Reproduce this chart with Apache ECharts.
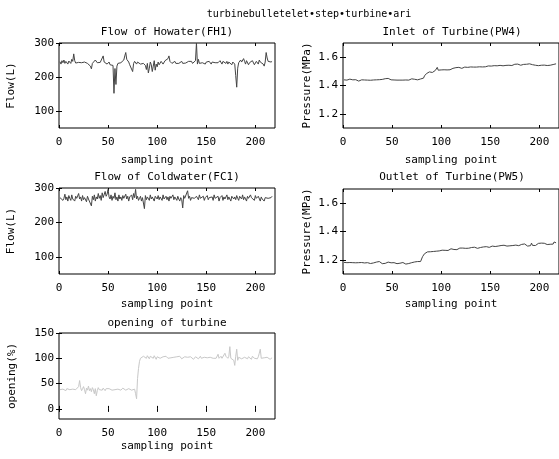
<!DOCTYPE html>
<html>
<head>
<meta charset="utf-8">
<script src="https://cdn.jsdelivr.net/npm/echarts@6/dist/echarts.min.js"></script>
<style>
  html, body { margin: 0; padding: 0; background: #fff; }
  #main { width: 559px; height: 459px; }
</style>
</head>
<body>
<div id="main"></div>
<script>
// значения (по точкам отсчёта 1..217)
const flowHowater = [
  245,238,248,242,250,240,246,243,238,247,
  244,240,252,246,268,248,241,244,239,243,
  246,240,242,245,238,244,241,246,240,243,
  236,232,224,240,244,239,250,246,242,244,
  240,243,238,246,262,244,240,246,238,242,
  244,236,240,238,234,152,225,178,232,240,
  236,244,242,238,246,250,262,272,252,248,
  244,236,232,240,216,240,246,242,238,244,
  240,246,238,242,236,240,244,234,222,240,
  212,226,244,236,216,232,248,220,238,230,
  244,236,240,246,242,238,240,248,244,250,
  254,262,246,242,240,244,242,246,240,244,
  242,240,244,242,246,240,243,245,241,244,
  242,246,242,244,246,240,242,245,248,300,
  238,252,240,236,244,242,240,246,238,244,
  242,240,246,242,238,244,240,246,242,238,
  244,242,240,248,244,238,246,242,244,240,
  246,238,244,242,240,236,244,240,238,204,
  170,226,242,246,250,244,240,254,246,238,
  248,244,236,242,246,240,248,244,236,240,
  246,242,238,250,244,240,246,238,232,244,
  272,256,246,242,250,244,246
];

const inletPW4 = [
  1.440,1.435,1.442,1.438,1.432,1.440,1.445,1.437,1.432,1.440,
  1.438,1.433,1.441,1.446,1.436,1.431,1.439,1.434,1.440,1.437,
  1.432,1.439,1.434,1.430,1.438,1.441,1.433,1.437,1.442,1.446,
  1.439,1.436,1.432,1.440,1.444,1.437,1.441,1.446,1.439,1.443,
  1.440,1.445,1.448,1.455,1.460,1.450,1.442,1.447,1.440,1.438,
  1.444,1.439,1.436,1.432,1.438,1.441,1.446,1.438,1.435,1.432,
  1.438,1.441,1.446,1.439,1.436,1.443,1.438,1.445,1.440,1.447,
  1.441,1.437,1.444,1.439,1.446,1.440,1.434,1.440,1.446,1.438,
  1.433,1.452,1.468,1.476,1.484,1.479,1.488,1.496,1.490,1.498,
  1.492,1.500,1.497,1.506,1.494,1.528,1.508,1.514,1.502,1.510,
  1.508,1.503,1.511,1.509,1.516,1.510,1.512,1.518,1.511,1.519,
  1.516,1.521,1.513,1.520,1.526,1.518,1.522,1.528,1.519,1.527,
  1.521,1.529,1.522,1.530,1.527,1.535,1.528,1.532,1.524,1.531,
  1.528,1.536,1.530,1.533,1.538,1.530,1.534,1.540,1.532,1.538,
  1.536,1.531,1.538,1.541,1.532,1.539,1.545,1.538,1.533,1.540,
  1.537,1.542,1.534,1.540,1.543,1.548,1.539,1.544,1.535,1.542,
  1.540,1.547,1.539,1.544,1.550,1.542,1.548,1.552,1.543,1.556,
  1.548,1.541,1.549,1.543,1.550,1.542,1.546,1.551,1.540,1.548,
  1.543,1.550,1.542,1.549,1.552,1.544,1.550,1.541,1.548,1.553,
  1.544,1.550,1.547,1.541,1.549,1.543,1.551,1.546,1.540,1.548,
  1.552,1.543,1.549,1.554,1.544,1.550,1.547,1.541,1.549,1.552,
  1.543,1.550,1.556,1.548,1.542,1.549,1.553
];

const flowColdwater = [
  272,268,276,264,270,282,266,274,262,278,
  270,264,280,268,272,262,276,270,266,284,
  268,274,262,278,266,272,270,260,276,268,
  264,270,248,276,266,280,262,274,268,284,
  270,278,264,286,272,268,290,276,282,296,
  274,268,280,264,276,270,286,266,274,262,
  280,268,274,264,278,270,266,282,268,276,
  262,274,270,280,266,284,272,296,268,276,
  264,270,276,262,272,268,240,278,266,274,
  270,264,280,268,274,270,262,276,272,268,
  278,266,274,270,264,280,268,272,276,266,
  274,262,276,270,268,280,266,274,272,264,
  276,268,262,272,266,242,278,270,274,268,
  292,270,276,264,272,268,274,270,266,276,
  272,266,280,270,274,268,276,264,272,270,
  278,266,272,276,268,274,264,280,270,272,
  268,276,262,272,270,278,264,274,268,272,
  280,266,274,270,262,276,272,268,274,266,
  278,270,264,276,272,268,280,266,274,270,
  262,276,270,266,280,272,268,274,264,278,
  270,266,276,272,262,274,268,270,262,272,
  276,268,270,274,266,272,276
];

const outletPW5 = [
  1.182,1.178,1.175,1.180,1.184,1.176,1.181,1.179,1.186,1.180,
  1.177,1.173,1.179,1.183,1.175,1.180,1.178,1.174,1.181,1.177,
  1.172,1.178,1.182,1.175,1.180,1.177,1.183,1.174,1.179,1.181,
  1.178,1.174,1.180,1.184,1.176,1.181,1.188,1.180,1.177,1.173,
  1.179,1.183,1.175,1.180,1.178,1.184,1.176,1.181,1.179,1.182,
  1.175,1.180,1.184,1.178,1.173,1.179,1.183,1.176,1.182,1.190,
  1.181,1.177,1.172,1.170,1.176,1.180,1.174,1.179,1.183,1.180,
  1.187,1.182,1.185,1.190,1.184,1.188,1.183,1.190,1.188,1.200,
  1.222,1.235,1.243,1.250,1.248,1.256,1.252,1.260,1.257,1.262,
  1.266,1.259,1.263,1.268,1.261,1.267,1.270,1.263,1.268,1.271,
  1.268,1.262,1.270,1.267,1.275,1.270,1.266,1.276,1.271,1.278,
  1.272,1.279,1.273,1.280,1.277,1.272,1.281,1.276,1.283,1.286,
  1.279,1.283,1.277,1.287,1.281,1.284,1.289,1.282,1.288,1.283,
  1.287,1.290,1.284,1.289,1.292,1.286,1.281,1.288,1.293,1.287,
  1.290,1.285,1.291,1.284,1.289,1.293,1.287,1.291,1.288,1.292,
  1.289,1.297,1.291,1.288,1.294,1.299,1.292,1.297,1.290,1.298,
  1.301,1.294,1.299,1.303,1.295,1.300,1.297,1.302,1.294,1.299,
  1.303,1.296,1.301,1.293,1.300,1.304,1.297,1.310,1.300,1.298,
  1.302,1.309,1.299,1.304,1.312,1.301,1.308,1.297,1.306,1.311,
  1.300,1.318,1.302,1.309,1.313,1.301,1.310,1.306,1.316,1.307,
  1.311,1.318,1.306,1.312,1.317,1.309,1.315,1.308,1.312,1.318,
  1.310,1.316,1.319,1.311,1.326,1.315,1.320
];

const openingTurbine = [
  38,40,37,39,41,38,36,40,39,42,
  38,40,37,39,42,40,38,41,39,44,
  56,42,36,40,44,38,30,41,37,45,
  36,40,34,42,38,30,40,26,36,42,
  38,35,40,37,41,38,36,40,39,37,
  40,38,41,37,39,40,38,36,40,39,
  38,40,37,39,41,38,40,37,39,38,
  40,38,39,37,40,38,39,30,20,60,
  80,94,100,102,100,104,101,103,100,105,
  102,99,104,101,103,100,105,102,98,103,
  101,104,100,102,99,103,101,100,104,102,
  100,103,99,101,104,100,102,101,99,103,
  100,102,104,101,99,102,100,103,101,100,
  102,99,101,103,100,102,98,101,103,100,
  101,99,102,104,100,101,98,102,100,99,
  101,103,100,102,99,101,100,103,101,100,
  99,108,100,102,104,100,101,103,110,104,
  101,100,104,123,100,103,99,96,86,104,
  118,96,102,100,103,99,101,100,102,101,
  101,99,103,100,102,98,104,101,100,100,
  101,99,103,110,118,100,103,98,101,102,
  99,102,100,101,98,100,101
];

const xTicks = [0, 50, 100, 150, 200];
const flowTicks = [100, 200, 300];
const pressTicks = [1.2, 1.4, 1.6];
const openTicks = [0, 50, 100, 150];

const FONT = '"DejaVu Sans Mono", monospace';

const panels = [
  { box: [59, 43, 216, 85], title: 'Flow of Howater(FH1)', titleTop: 27, yName: 'Flow(L)', yGap: 42,
    yMin: 50, yMax: 300, yTicks: flowTicks, xGap: 27, values: flowHowater, color: '#444' },
  { box: [343, 43, 218, 85], title: 'Inlet of Turbine(PW4)', titleTop: 27, yName: 'Pressure(MPa)', yGap: 30,
    yMin: 1.1, yMax: 1.7, yTicks: pressTicks, xGap: 27, values: inletPW4, color: '#444' },
  { box: [59, 188, 216, 86], title: 'Flow of Coldwater(FC1)', titleTop: 172, yName: 'Flow(L)', yGap: 42,
    yMin: 50, yMax: 300, yTicks: flowTicks, xGap: 25, values: flowColdwater, color: '#444' },
  { box: [343, 189, 218, 85], title: 'Outlet of Turbine(PW5)', titleTop: 172, yName: 'Pressure(MPa)', yGap: 30,
    yMin: 1.1, yMax: 1.7, yTicks: pressTicks, xGap: 25, values: outletPW5, color: '#444' },
  { box: [59, 333, 216, 86], title: 'opening of turbine', titleTop: 318, yName: 'opening(%)', yGap: 41,
    yMin: -20, yMax: 150, yTicks: openTicks, xGap: 22, values: openingTurbine, color: '#c8c8c8' }
];

const textStyle = { fontFamily: FONT, fontSize: 11, color: '#000', fontWeight: 'normal' };

let grid = [], xAxis = [], yAxis = [], series = [];
let title = [{
  text: 'turbinebulletelet•step•turbine•ari',
  left: 309, top: 9, textAlign: 'center', padding: 0,
  textStyle: { fontFamily: FONT, fontSize: 10, color: '#000', fontWeight: 'normal' }
}];

panels.forEach((p, i) => {
  const [l, t, w, h] = p.box;
  grid.push({ left: l, top: t, width: w, height: h, show: true,
    backgroundColor: '#fff', borderColor: '#000', borderWidth: 1 });

  title.push({ text: p.title, left: l + w / 2, top: p.titleTop, textAlign: 'center',
    padding: 0, textStyle: textStyle });

  const tick = { show: true, inside: true, length: 3, lineStyle: { color: '#000', width: 1 } };

  // нижняя ось и её "зеркало" сверху
  xAxis.push({
    type: 'value', gridIndex: i, min: 0, max: 220, position: 'bottom',
    name: 'sampling point', nameLocation: 'middle', nameGap: p.xGap, nameTextStyle: textStyle,
    axisLine: { show: false }, splitLine: { show: false },
    axisTick: Object.assign({ customValues: xTicks }, tick),
    axisLabel: { customValues: xTicks, margin: 9, fontFamily: FONT, fontSize: 11, color: '#000' }
  });
  xAxis.push({
    type: 'value', gridIndex: i, min: 0, max: 220, position: 'top',
    axisLine: { show: false }, splitLine: { show: false },
    axisTick: Object.assign({ customValues: xTicks }, tick),
    axisLabel: { show: false }
  });

  yAxis.push({
    type: 'value', gridIndex: i, min: p.yMin, max: p.yMax, position: 'left',
    name: p.yName, nameLocation: 'middle', nameRotate: 90, nameGap: p.yGap, nameTextStyle: textStyle,
    axisLine: { show: false }, splitLine: { show: false },
    axisTick: Object.assign({ customValues: p.yTicks }, tick),
    axisLabel: { customValues: p.yTicks, margin: 5, fontFamily: FONT, fontSize: 11, color: '#000' }
  });
  yAxis.push({
    type: 'value', gridIndex: i, min: p.yMin, max: p.yMax, position: 'right',
    axisLine: { show: false }, splitLine: { show: false },
    axisTick: Object.assign({ customValues: p.yTicks }, tick),
    axisLabel: { show: false }
  });

  series.push({
    type: 'line', xAxisIndex: 2 * i, yAxisIndex: 2 * i,
    data: p.values.map((v, k) => [k + 1, v]),
    showSymbol: false, symbol: 'none',
    lineStyle: { color: p.color, width: 1 },
    silent: true
  });
});

let chart = echarts.init(document.getElementById('main'), null, { renderer: 'canvas' });
chart.setOption({
  animation: false,
  backgroundColor: '#fff',
  title: title,
  grid: grid,
  xAxis: xAxis,
  yAxis: yAxis,
  series: series
});
</script>
</body>
</html>
